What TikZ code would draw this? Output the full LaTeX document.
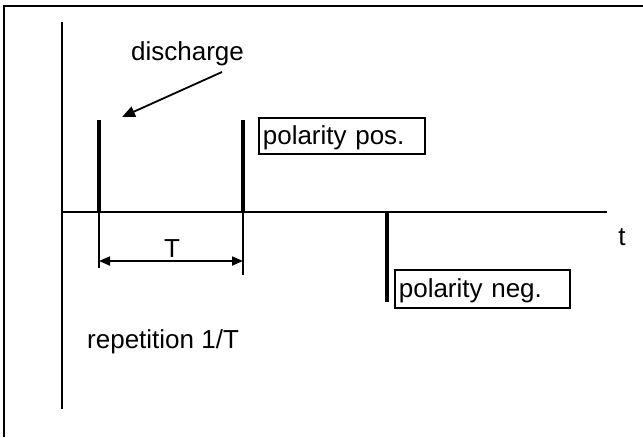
\documentclass[tikz,border=0pt]{standalone}
\usepackage{fontspec}
\setmainfont{Liberation Sans}
\usetikzlibrary{arrows.meta}
\tikzset{
  every node/.style={font=\fontsize{26}{30}\selectfont, inner sep=0pt},
  axis/.style={line width=2.4pt},
  pulse/.style={line width=4.5pt},
  dim/.style={line width=1.5pt},
  arr/.style={-{Triangle[length=13pt, width=11pt]}, line width=1.8pt},
  dimarr/.style={{Triangle[length=11pt, width=9pt]}-{Triangle[length=11pt, width=9pt]}, line width=1.7pt},
  lbox/.style={draw, line width=1.7pt, anchor=north west, inner xsep=4pt, inner ysep=4pt,
               text height=23pt, text depth=5pt, align=left},
}
\begin{document}
\begin{tikzpicture}[x=1pt, y=-1pt]
  \useasboundingbox (0,0) rectangle (643,437);
  % frame
  \draw[axis] (4,437) -- (4,6) -- (643,6);
  % axes
  \coordinate (ytop) at (62,22);
  \coordinate (ybot) at (62,409);
  \coordinate (orig) at (62,212);
  \coordinate (tend) at (607,212);
  \draw[axis] (ytop) -- (ybot);
  \draw[axis] (orig) -- (tend);
  \node[anchor=base] (tlab) at (622,245) {t};
  % pulses
  \coordinate (p1) at (99,212);
  \coordinate (p2) at (243,212);
  \coordinate (p3) at (387,212);
  \coordinate (p1top) at (99,120);
  \coordinate (p2top) at (243,120);
  \coordinate (p3bot) at (387,302);
  \draw[pulse] (p1) -- (p1top);
  \draw[pulse] (p2) -- (p2top);
  \draw[pulse] (p3) -- (p3bot);
  % discharge
  \node[anchor=base] (dis) at (187.5,60) {discharge};
  \coordinate (distail) at (222,72);
  \coordinate (distip) at (122,117);
  \draw[arr] (distail) -- (distip);
  % period T
  \coordinate (d1) at (99,268);
  \coordinate (d2) at (243,275);
  \draw[dim] (p1) -- (d1);
  \draw[dim] (p2) -- (d2);
  \coordinate (a1) at (99,261);
  \coordinate (a2) at (243,261);
  \draw[dimarr] (a1) -- (a2);
  \node[anchor=base] (per) at (172,257) {T};
  % labels
  \node[lbox, text width=158pt] (pos) at (258,117) {polarity pos.};
  \node[lbox, text width=167pt, text height=24pt, text depth=6pt] (neg) at (394,269) {polarity neg.};
  \node[anchor=base west] (rep) at (87,348) {repetition 1/T};
\end{tikzpicture}
\end{document}
